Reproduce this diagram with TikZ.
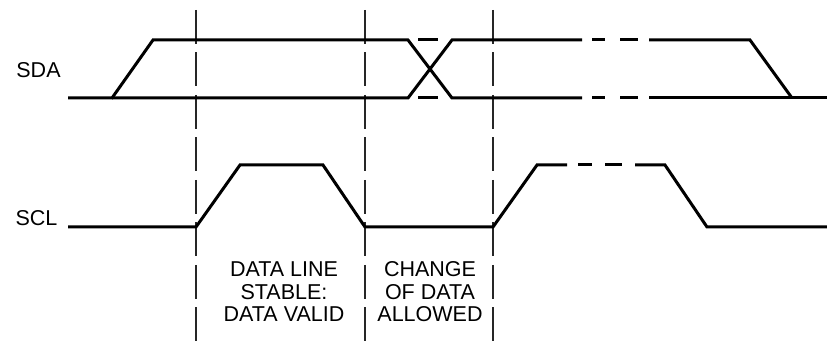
\documentclass[tikz,border=0pt]{standalone}
\usepackage{fontspec}
\setmainfont{Liberation Sans}
\begin{document}
\begin{tikzpicture}[x=0.5pt,y=-0.5pt,
  wave/.style={line width=1.5pt,line join=miter},
  guide/.style={line width=0.9pt,draw=black!85,dash pattern=on 17pt off 4.25pt},
  brk/.style={line width=1.5pt,dash pattern=on 7pt off 7.5pt},
  sig/.style={font=\fontsize{10.75}{11.25}\selectfont,inner sep=0pt},
  note/.style={font=\fontsize{10.75}{11.25}\selectfont,align=center,inner sep=0pt}]
\useasboundingbox (0,0) rectangle (827,347);
% dashed guides
\foreach \gx/\gname in {196/ga,365/gb,493/gc}
  \draw[guide] (\gx,10) coordinate (\gname top) -- (\gx,347) coordinate (\gname bot);
% SDA
\node[sig] (sda) at (38.5,70) {SDA};
\draw[wave] (68,98) -- (112,98) -- (153,40) -- (408,40) -- (452,98) -- (582,98);
\draw[wave] (112,98) -- (408,98) -- (452,40) -- (582,40);
\draw[wave] (418,40) -- (438,40) (418,98) -- (438,98);
\draw[wave] (592,40) -- (605,40) (620,40) -- (638,40);
\draw[wave] (592,98) -- (605,98) (620,98) -- (638,98);
\draw[wave] (649,40) -- (750,40) -- (792,98);
\draw[wave] (649,98) -- (827,98);
% SCL
\node[sig] (scl) at (36.5,218) {SCL};
\draw[wave] (68,227) -- (196,227) -- (240,165) -- (323,165) -- (365,227)
  -- (493,227) -- (537,165) -- (567,165);
\draw[wave] (578,165) -- (592,165) (605,165) -- (622,165);
\draw[wave] (635,165) -- (665,165) -- (707,227) -- (827,227);
% labels
\node[note] (stable) at (284,292) {DATA LINE\\STABLE:\\DATA VALID};
\node[note] (change) at (430,292) {CHANGE\\OF DATA\\ALLOWED};
\end{tikzpicture}
\end{document}
